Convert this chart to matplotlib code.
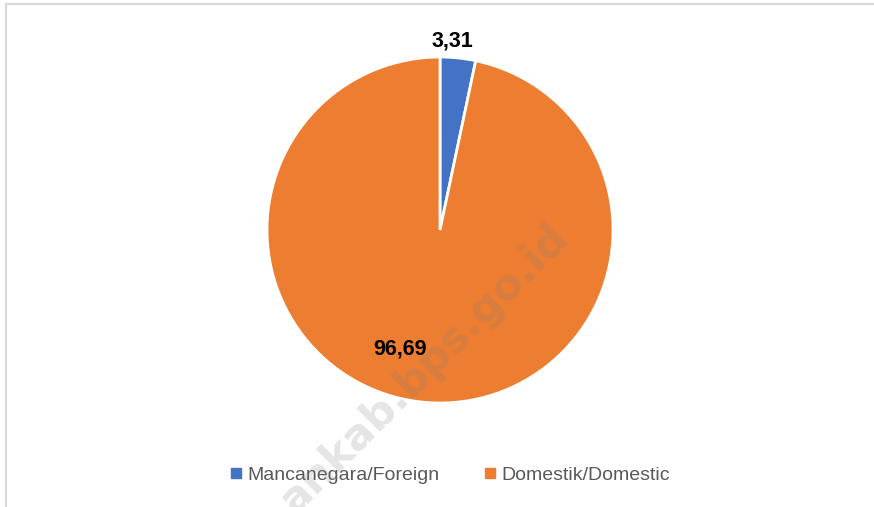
import matplotlib
matplotlib.use("Agg")
from matplotlib import pyplot as plt
from matplotlib.lines import Line2D

labels = ["Mancanegara/Foreign", "Domestik/Domestic"]
values = [3.31, 96.69]
value_texts = ["3,31", "96,69"]
colors = ["#4472C4", "#ED7D31"]

W, H = 874, 507
fig = plt.figure(figsize=(W / 100, H / 100), dpi=100)

# pie centre ~ (440, 230) px, radius ~ 173 px
cx, cy, r = 440, 230, 173
ax = fig.add_axes([(cx - r) / W, (H - cy - r) / H, 2 * r / W, 2 * r / H])
wedges, _ = ax.pie(values, colors=colors, startangle=90, counterclock=False,
                   wedgeprops=dict(edgecolor="white", linewidth=2))
ax.set_xlim(-1, 1)
ax.set_ylim(-1, 1)
ax.set_aspect("auto")
ax.axis("off")

label_pos = [(0.07, 1.09), (-0.23, -0.69)]
for (x, y), t in zip(label_pos, value_texts):
    ax.text(x, y, t, ha="center", va="center", fontsize=15.5, fontweight="bold",
            color="black", family="Liberation Sans", zorder=5)

# watermark
fig.text(570 / W, 1 - 240 / H, "ankab.bps.go.id", rotation=45,
         ha="right", va="baseline", rotation_mode="anchor", fontsize=31,
         fontweight="bold", color="#7f7f7f", alpha=0.2, family="DejaVu Sans",
         zorder=10)

handles = [Line2D([], [], marker="s", linestyle="none", markersize=7,
                  markerfacecolor=c, markeredgecolor=c) for c in colors]
fig.legend(handles, labels, loc="center", bbox_to_anchor=(447 / W, 1 - 475 / H),
           ncol=2, frameon=False, handletextpad=0.0, handlelength=1.2,
           columnspacing=2.0, labelcolor="#595959",
           prop={"family": "Liberation Sans", "size": 14})

# thin frame lines at top and left
fig.add_artist(Line2D([5.5 / W, 1], [1 - 3.5 / H, 1 - 3.5 / H], color="#d9d9d9",
                      linewidth=1.5, transform=fig.transFigure))
fig.add_artist(Line2D([5.5 / W, 5.5 / W], [0, 1 - 3.5 / H], color="#d9d9d9",
                      linewidth=1.5, transform=fig.transFigure))

fig.savefig("out.png", dpi=100, facecolor="white")
